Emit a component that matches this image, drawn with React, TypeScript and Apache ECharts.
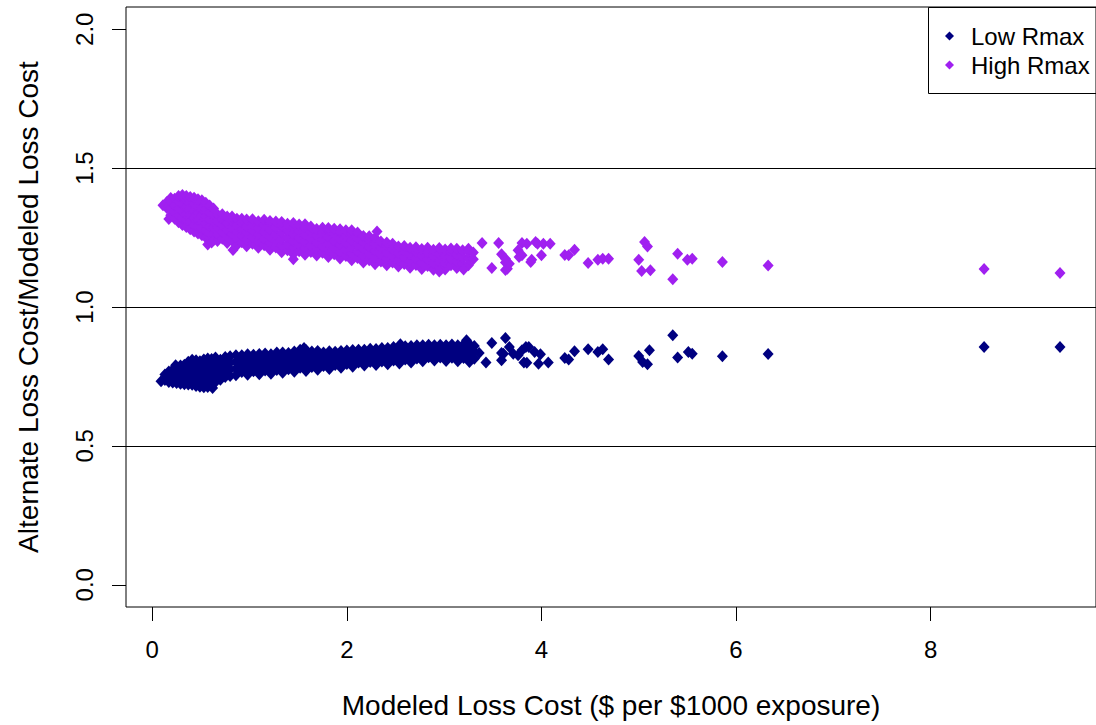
import { useEffect, useRef } from "react";
import * as echarts from "echarts";

// Axis ticks and reference lines
const xTicks = [0, 2, 4, 6, 8];
const yTicks = [0, 0.5, 1, 1.5, 2];
const refLines = [0.5, 1.0, 1.5];

// Low Rmax: dense part as [x, ratios observed at that x]
const lowRmaxBand: [number, number[]][] = [
  [0.09, [0.733]],
  [0.13, [0.737, 0.757]],
  [0.17, [0.730, 0.752, 0.768]],
  [0.21, [0.728, 0.750, 0.774]],
  [0.25, [0.726, 0.748, 0.770, 0.782]],
  [0.29, [0.724, 0.745, 0.767, 0.789]],
  [0.33, [0.722, 0.744, 0.766, 0.792]],
  [0.37, [0.721, 0.742, 0.765, 0.788, 0.803]],
  [0.41, [0.720, 0.742, 0.764, 0.786, 0.810]],
  [0.45, [0.716, 0.740, 0.762, 0.785, 0.808]],
  [0.49, [0.713, 0.736, 0.758, 0.780, 0.805]],
  [0.53, [0.711, 0.734, 0.757, 0.780, 0.811]],
  [0.57, [0.712, 0.733, 0.756, 0.780, 0.804, 0.815]],
  [0.61, [0.720, 0.742, 0.765, 0.790, 0.813]],
  [0.65, [0.730, 0.752, 0.775, 0.798, 0.818]],
  [0.70, [0.738, 0.762, 0.786, 0.810]],
  [0.75, [0.748, 0.770, 0.794, 0.820]],
  [0.80, [0.752, 0.776, 0.800, 0.823]],
  [0.86, [0.754, 0.778, 0.802, 0.826]],
  [0.92, [0.766, 0.790, 0.814, 0.826]],
  [0.98, [0.756, 0.780, 0.804, 0.830]],
  [1.04, [0.769, 0.793, 0.817, 0.828]],
  [1.10, [0.758, 0.782, 0.806, 0.831]],
  [1.16, [0.771, 0.795, 0.819, 0.833]],
  [1.22, [0.760, 0.784, 0.808, 0.830]],
  [1.28, [0.773, 0.797, 0.821, 0.836]],
  [1.34, [0.763, 0.787, 0.811, 0.836]],
  [1.40, [0.776, 0.800, 0.824, 0.834]],
  [1.46, [0.767, 0.791, 0.815, 0.840]],
  [1.52, [0.781, 0.805, 0.829, 0.846]],
  [1.58, [0.770, 0.794, 0.818, 0.845]],
  [1.64, [0.784, 0.808, 0.830, 0.840]],
  [1.70, [0.774, 0.798, 0.822, 0.842]],
  [1.76, [0.788, 0.812, 0.836]],
  [1.82, [0.777, 0.801, 0.825, 0.841]],
  [1.88, [0.791, 0.815, 0.839]],
  [1.94, [0.781, 0.805, 0.829, 0.842]],
  [2.00, [0.795, 0.819, 0.843]],
  [2.06, [0.785, 0.809, 0.833, 0.845]],
  [2.12, [0.800, 0.824, 0.846]],
  [2.18, [0.789, 0.813, 0.837, 0.846]],
  [2.24, [0.802, 0.826, 0.850]],
  [2.30, [0.791, 0.815, 0.839, 0.849]],
  [2.36, [0.804, 0.828, 0.852]],
  [2.42, [0.794, 0.818, 0.842, 0.852]],
  [2.48, [0.807, 0.831, 0.856]],
  [2.54, [0.797, 0.821, 0.845, 0.857]],
  [2.60, [0.811, 0.835, 0.859]],
  [2.66, [0.800, 0.824, 0.848, 0.860]],
  [2.72, [0.815, 0.839, 0.862]],
  [2.78, [0.805, 0.829, 0.853, 0.862]],
  [2.84, [0.819, 0.843, 0.864]],
  [2.90, [0.807, 0.831, 0.855, 0.862]],
  [2.96, [0.818, 0.842, 0.864]],
  [3.02, [0.806, 0.830, 0.854, 0.862]],
  [3.08, [0.817, 0.841, 0.865]],
  [3.14, [0.805, 0.829, 0.853, 0.862]],
  [3.20, [0.816, 0.840, 0.865]],
  [3.26, [0.802, 0.826, 0.850, 0.866]],
  [3.31, [0.814, 0.838, 0.860]],
];

// Low Rmax: stray points off the band and scattered points at larger loss costs
const lowRmaxSparse: [number, number][] = [
  [0.24, 0.790], [0.62, 0.708], [1.56, 0.852], [2.55, 0.866],
  [3.23, 0.880], [3.36, 0.834], [3.43, 0.800], [3.49, 0.870], [3.59, 0.834],
  [3.59, 0.808], [3.61, 0.832], [3.63, 0.888], [3.67, 0.856], [3.71, 0.832],
  [3.76, 0.826], [3.80, 0.844], [3.82, 0.800], [3.84, 0.856], [3.85, 0.799],
  [3.87, 0.856], [3.93, 0.838], [3.97, 0.796], [3.99, 0.830], [4.07, 0.800],
  [4.24, 0.816], [4.28, 0.811], [4.34, 0.841], [4.48, 0.848], [4.58, 0.838],
  [4.63, 0.848], [4.69, 0.811], [5.00, 0.824], [5.04, 0.802], [5.09, 0.794],
  [5.11, 0.844], [5.35, 0.898], [5.40, 0.818], [5.51, 0.838], [5.55, 0.832],
  [5.86, 0.823], [6.33, 0.831], [8.55, 0.856], [9.33, 0.856],
];

// High Rmax: dense part as [x, ratios observed at that x]
const highRmaxBand: [number, number[]][] = [
  [0.11, [1.366]],
  [0.15, [1.356, 1.378]],
  [0.17, [1.317]],
  [0.19, [1.330, 1.355, 1.380, 1.392]],
  [0.23, [1.318, 1.342, 1.366, 1.390]],
  [0.27, [1.305, 1.330, 1.355, 1.380, 1.400]],
  [0.31, [1.295, 1.320, 1.345, 1.370, 1.395, 1.403]],
  [0.35, [1.288, 1.312, 1.336, 1.360, 1.385, 1.400]],
  [0.39, [1.280, 1.305, 1.330, 1.355, 1.380, 1.396]],
  [0.43, [1.272, 1.296, 1.320, 1.345, 1.370, 1.393]],
  [0.47, [1.265, 1.290, 1.314, 1.338, 1.362, 1.388]],
  [0.51, [1.258, 1.282, 1.306, 1.330, 1.355, 1.384]],
  [0.55, [1.250, 1.275, 1.300, 1.325, 1.350, 1.375]],
  [0.59, [1.242, 1.266, 1.290, 1.315, 1.340, 1.365]],
  [0.63, [1.240, 1.263, 1.286, 1.310, 1.335, 1.355]],
  [0.67, [1.238, 1.262, 1.286, 1.310, 1.334]],
  [0.72, [1.246, 1.270, 1.294, 1.318, 1.334]],
  [0.77, [1.230, 1.254, 1.278, 1.302, 1.326]],
  [0.82, [1.239, 1.263, 1.287, 1.311, 1.326]],
  [0.87, [1.222, 1.246, 1.270, 1.294, 1.318]],
  [0.92, [1.233, 1.257, 1.281, 1.305, 1.318]],
  [0.97, [1.219, 1.243, 1.267, 1.291, 1.315]],
  [1.03, [1.228, 1.252, 1.276, 1.300, 1.316]],
  [1.09, [1.213, 1.237, 1.261, 1.285, 1.309]],
  [1.15, [1.222, 1.246, 1.270, 1.294, 1.314]],
  [1.21, [1.206, 1.230, 1.254, 1.278, 1.302, 1.310]],
  [1.27, [1.214, 1.238, 1.262, 1.286, 1.308]],
  [1.33, [1.197, 1.221, 1.245, 1.269, 1.293, 1.306]],
  [1.39, [1.204, 1.228, 1.252, 1.276, 1.300]],
  [1.45, [1.190, 1.214, 1.238, 1.262, 1.286, 1.302]],
  [1.51, [1.201, 1.225, 1.249, 1.273, 1.297]],
  [1.57, [1.188, 1.212, 1.236, 1.260, 1.284, 1.298]],
  [1.63, [1.198, 1.222, 1.246, 1.270, 1.290]],
  [1.69, [1.185, 1.209, 1.233, 1.257, 1.281]],
  [1.75, [1.195, 1.219, 1.243, 1.267, 1.285]],
  [1.81, [1.180, 1.204, 1.228, 1.252, 1.276, 1.284]],
  [1.87, [1.190, 1.214, 1.238, 1.262, 1.282]],
  [1.93, [1.175, 1.199, 1.223, 1.247, 1.271, 1.280]],
  [1.99, [1.184, 1.208, 1.232, 1.256, 1.276]],
  [2.05, [1.168, 1.192, 1.216, 1.240, 1.264, 1.276]],
  [2.11, [1.176, 1.200, 1.224, 1.248, 1.268]],
  [2.17, [1.160, 1.184, 1.208, 1.232, 1.256]],
  [2.23, [1.168, 1.192, 1.216, 1.240, 1.255]],
  [2.29, [1.154, 1.178, 1.202, 1.226, 1.248]],
  [2.35, [1.164, 1.188, 1.212, 1.236]],
  [2.41, [1.150, 1.174, 1.198, 1.222, 1.232]],
  [2.47, [1.160, 1.184, 1.208, 1.228]],
  [2.53, [1.146, 1.170, 1.194, 1.218]],
  [2.59, [1.155, 1.179, 1.203, 1.220]],
  [2.65, [1.141, 1.165, 1.189, 1.213]],
  [2.71, [1.151, 1.175, 1.199, 1.215]],
  [2.77, [1.137, 1.161, 1.185, 1.209]],
  [2.83, [1.148, 1.172, 1.196, 1.213]],
  [2.89, [1.134, 1.158, 1.182, 1.206]],
  [2.95, [1.143, 1.167, 1.191, 1.212]],
  [3.01, [1.135, 1.159, 1.183, 1.207]],
  [3.07, [1.150, 1.174, 1.198, 1.211]],
  [3.13, [1.140, 1.164, 1.188, 1.210]],
  [3.19, [1.156, 1.180, 1.204]],
  [3.25, [1.150, 1.174, 1.198, 1.210]],
  [3.30, [1.172, 1.196]],
];

// High Rmax: stray points off the band and scattered points at larger loss costs
const highRmaxSparse: [number, number][] = [
  [0.57, 1.225], [0.61, 1.232], [0.83, 1.205], [1.45, 1.172], [2.31, 1.272],
  [2.95, 1.128], [3.20, 1.135],
  [3.39, 1.230], [3.49, 1.140], [3.56, 1.230], [3.59, 1.190], [3.63, 1.133],
  [3.63, 1.160], [3.65, 1.138], [3.67, 1.156], [3.63, 1.174], [3.77, 1.180],
  [3.76, 1.204], [3.80, 1.186], [3.80, 1.230], [3.85, 1.228], [3.89, 1.162],
  [3.90, 1.170], [3.94, 1.234], [3.96, 1.228], [4.00, 1.186], [4.02, 1.228],
  [4.09, 1.228], [4.24, 1.187], [4.28, 1.186], [4.34, 1.206], [4.48, 1.158],
  [4.58, 1.170], [4.63, 1.174], [4.69, 1.174], [5.00, 1.170], [5.03, 1.130],
  [5.06, 1.234], [5.09, 1.218], [5.12, 1.132], [5.35, 1.100], [5.40, 1.192],
  [5.50, 1.170], [5.55, 1.174], [5.86, 1.162], [6.33, 1.149], [8.55, 1.137],
  [9.33, 1.122],
];

const toPoints = (band: [number, number[]][], sparse: [number, number][]) => [
  ...band.flatMap(([x, ys]) => ys.map((y) => [x, y])),
  ...sparse,
];

const FONT = '"Liberation Sans", Arial, Helvetica, sans-serif';
const NAVY = "#000080";
const PURPLE = "#A020F0";

export default function App() {
  const ref = useRef<HTMLDivElement>(null);

  useEffect(() => {
    if (!ref.current) return;
    const chart = echarts.init(ref.current, undefined, { renderer: "svg" });

    chart.setOption({
      animation: false,
      backgroundColor: "#ffffff",
      textStyle: { fontFamily: FONT, color: "#000" },
      grid: {
        left: 126,
        top: 7,
        right: -6,
        bottom: 118,
        show: true,
        borderColor: "#000",
        borderWidth: 1,
        backgroundColor: "transparent",
      },
      xAxis: {
        type: "value",
        min: -0.27,
        max: 9.7,
        splitLine: { show: false },
        axisLine: { show: false, onZero: false },
        axisTick: {
          show: true,
          inside: false,
          customValues: xTicks,
          length: 14,
          lineStyle: { color: "#000", width: 1 },
        },
        axisLabel: {
          customValues: xTicks,
          margin: 30,
          fontSize: 24,
          color: "#000",
          fontFamily: FONT,
          formatter: (v: number) => String(v),
        },
        name: "Modeled Loss Cost ($ per $1000 exposure)",
        nameLocation: "middle",
        nameGap: 84,
        nameTextStyle: { fontSize: 28, color: "#000", fontFamily: FONT },
      },
      yAxis: {
        type: "value",
        min: -0.08,
        max: 2.08,
        splitLine: { show: false },
        axisLine: { show: false, onZero: false },
        axisTick: {
          show: true,
          inside: false,
          customValues: yTicks,
          length: 14,
          lineStyle: { color: "#000", width: 1 },
        },
        axisLabel: {
          customValues: yTicks,
          rotate: 90,
          margin: 30,
          fontSize: 24,
          color: "#000",
          fontFamily: FONT,
          formatter: (v: number) => v.toFixed(1),
        },
        name: "Alternate Loss Cost/Modeled Loss Cost",
        nameLocation: "middle",
        nameRotate: 90,
        nameGap: 84,
        nameTextStyle: { fontSize: 28, color: "#000", fontFamily: FONT },
      },
      legend: {
        orient: "vertical",
        left: 940,
        top: 19,
        itemWidth: 9,
        itemHeight: 9,
        itemGap: 5,
        icon: "diamond",
        selectedMode: false,
        data: ["Low Rmax", "High Rmax"],
        textStyle: {
          fontSize: 24,
          lineHeight: 24,
          color: "#000",
          fontFamily: FONT,
          padding: [0, 0, 0, 12],
        },
      },
      graphic: [
        {
          type: "rect",
          shape: { x: 928.5, y: 7.5, width: 200, height: 86 },
          style: { fill: "none", stroke: "#000", lineWidth: 1 },
          silent: true,
        },
      ],
      series: [
        {
          name: "Low Rmax",
          type: "scatter",
          symbol: "diamond",
          symbolSize: [11, 12],
          itemStyle: { color: NAVY, opacity: 1 },
          emphasis: { disabled: true },
          data: toPoints(lowRmaxBand, lowRmaxSparse),
          markLine: {
            silent: true,
            symbol: ["none", "none"],
            label: { show: false },
            lineStyle: { color: "#000", width: 1, type: "solid" },
            emphasis: { disabled: true },
            data: refLines.map((y) => ({ yAxis: y })),
          },
        },
        {
          name: "High Rmax",
          type: "scatter",
          symbol: "diamond",
          symbolSize: [11, 12],
          itemStyle: { color: PURPLE, opacity: 1 },
          emphasis: { disabled: true },
          data: toPoints(highRmaxBand, highRmaxSparse),
        },
      ],
    });

    return () => chart.dispose();
  }, []);

  return (
    <div
      ref={ref}
      style={{ position: "fixed", left: 0, top: 0, width: 1096, height: 725, background: "#fff" }}
    />
  );
}
